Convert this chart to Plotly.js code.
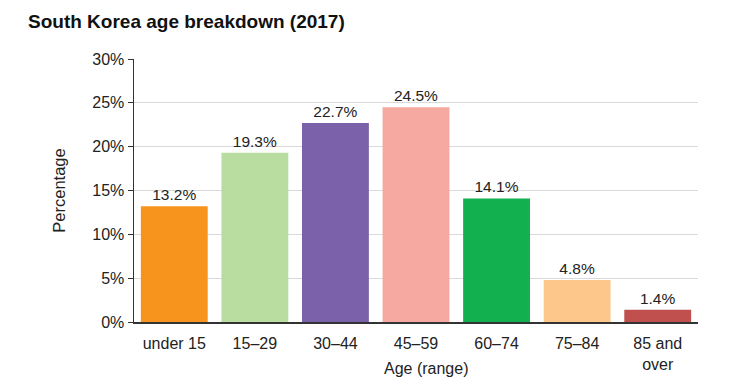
<!DOCTYPE html>
<html><head><meta charset="utf-8">
<script src="https://cdn.plot.ly/plotly-3.0.1.min.js"></script>
<style>html,body{margin:0;padding:0;background:#fff}</style>
</head><body>
<div id="chart" style="width:756px;height:385px"></div>
<script>
const categories = ["under 15", "15–29", "30–44", "45–59", "60–74", "75–84", "85 and<br>over"];
const values = [13.2, 19.3, 22.7, 24.5, 14.1, 4.8, 1.4];
const labels = ["13.2%", "19.3%", "22.7%", "24.5%", "14.1%", "4.8%", "1.4%"];
const colors = ["#F7941D", "#B9DDA1", "#7A61A9", "#F5A9A1", "#12B04F", "#FDC68A", "#C0504D"];
const yTicks = [0, 5, 10, 15, 20, 25, 30];

const FONT = "Liberation Sans, Arial, sans-serif";
const trace = {
  type: "bar",
  x: categories,
  y: values,
  text: labels,
  textposition: "outside",
  cliponaxis: false,
  textfont: {family: FONT, size: 15.5, color: "#222"},
  marker: {color: colors},
  hoverinfo: "none"
};

const layout = {
  width: 756, height: 385,
  margin: {l: 134, r: 58, t: 59, b: 63},
  paper_bgcolor: "#fff", plot_bgcolor: "#fff",
  bargap: 0.17,
  showlegend: false,
  font: {family: FONT, size: 16, color: "#222"},
  title: {
    text: "<b>South Korea age breakdown (2017)</b>",
    x: 28 / 756, xref: "container", xanchor: "left",
    y: 1 - 21 / 385, yref: "container", yanchor: "middle",
    font: {size: 19, color: "#111"}
  },
  xaxis: {
    showline: true, linecolor: "#333", linewidth: 1.5,
    ticks: "", tickfont: {size: 16, color: "#222"},
    ticklabelstandoff: 6,
    showgrid: false
  },
  yaxis: {
    range: [0, 30],
    tickvals: yTicks,
    ticktext: yTicks.map(v => v + "%"),
    showline: true, linecolor: "#333", linewidth: 1.5,
    ticks: "outside", ticklen: 5, tickcolor: "#333",
    showgrid: true, gridcolor: "#d9d9d9", gridwidth: 1,
    zeroline: false,
    tickfont: {size: 16, color: "#222"},
    title: {text: "Percentage", font: {size: 16.5, color: "#222"}, standoff: 22}
  },
  annotations: [{
    text: "Age (range)", showarrow: false,
    xref: "paper", x: (426 - 134) / 564, xanchor: "center",
    yref: "paper", y: (322 - 368) / 263, yanchor: "middle",
    font: {family: FONT, size: 16, color: "#222"}
  }]
};

Plotly.newPlot("chart", [trace], layout, {displayModeBar: false, staticPlot: true});
</script>
</body></html>
